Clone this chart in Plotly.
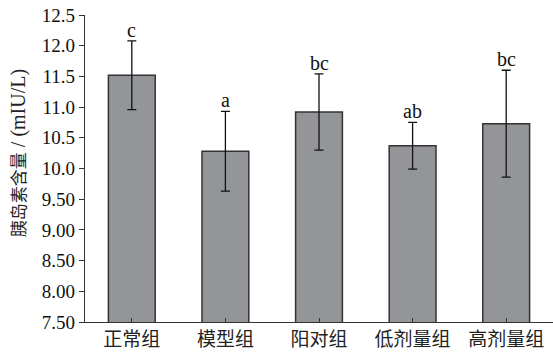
import plotly.graph_objects as go

categories = ["正常组", "模型组", "阳对组", "低剂量组", "高剂量组"]
means = [11.52, 10.28, 10.92, 10.37, 10.73]
errors = [0.56, 0.65, 0.62, 0.38, 0.87]
letters = ["c", "a", "bc", "ab", "bc"]
y_tickvals = [7.5, 8.0, 8.5, 9.0, 9.5, 10.0, 10.5, 11.0, 11.5, 12.0, 12.5]
y_ticktext = ["7.50", "8.00", "8.50", "9.00", "9.50", "10.0", "10.5", "11.0", "11.5", "12.0", "12.5"]
y_title_cn = "胰岛素含量"
y_title_unit = " / (mIU/L)"

FONT = "Liberation Serif, Times New Roman, Noto Sans CJK SC, serif"

fig = go.Figure()
fig.add_trace(go.Bar(
    x=categories, y=means,
    marker=dict(color="#939598", line=dict(color="#333333", width=1.5)),
    error_y=dict(type="data", array=errors, visible=True, color="#111111",
                 thickness=1.3, width=4.5),
    width=0.5,
))

for c, m, e, t in zip(categories, means, errors, letters):
    fig.add_annotation(x=c, y=m + e, text=t, showarrow=False, yanchor="bottom",
                       yshift=-2, font=dict(family=FONT, size=20, color="#111111"))

fig.add_annotation(
    xref="paper", yref="paper", x=0, y=0.55, xshift=-67,
    xanchor="center", yanchor="middle", textangle=-90, showarrow=False,
    text=f'<span style="font-size:17px">{y_title_cn}</span>{y_title_unit}',
    font=dict(family=FONT, size=20, color="#222222"),
)

fig.update_layout(
    width=553, height=354,
    margin=dict(l=85, r=0, t=15, b=32),
    plot_bgcolor="white", paper_bgcolor="white",
    showlegend=False,
    font=dict(family=FONT, size=18, color="#111111"),
)
fig.update_xaxes(
    range=[-0.5, 4.5], showline=True, linecolor="#333333", linewidth=1.3,
    ticks="inside", ticklen=4, tickcolor="#333333",
    tickfont=dict(family="Noto Sans CJK SC, sans-serif", size=19, color="#222222"),
    showgrid=False, zeroline=False,
)
fig.update_yaxes(
    range=[7.5, 12.5], showline=True, linecolor="#333333", linewidth=1.3,
    ticks="outside", ticklen=5, tickcolor="#333333",
    tickvals=y_tickvals, ticktext=y_ticktext,
    tickfont=dict(family=FONT, size=19, color="#111111"),
    showgrid=False, zeroline=False,
)

fig.write_html("out.html")
